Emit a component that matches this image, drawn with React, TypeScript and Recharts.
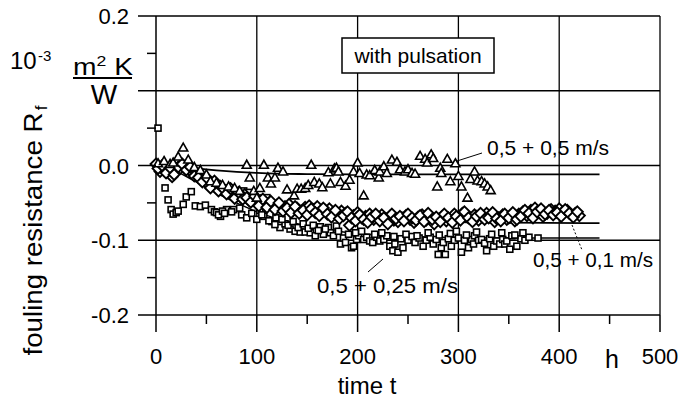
import React from 'react';
import { ComposedChart, Scatter, Line, XAxis, YAxis, ReferenceLine } from 'recharts';

// measured points [t in h, Rf in 1e-3 m2K/W]
const pulse05: [number, number][] = [
  [2, 0.003], [8, 0.006], [14, 0.002], [17, 0.004], [22, 0.012], [27, 0.024], [32, 0.008], [38, -0.002],
  [44, -0.006], [50, -0.012], [54, -0.021], [60, -0.023], [66, -0.026], [72, -0.028], [78, -0.03], [83, -0.034],
  [90, 0.001], [93, -0.016], [97, -0.034], [100, -0.043], [103, -0.03], [107, 0.001], [111, -0.016], [114, -0.024],
  [118, -0.016], [121, -0.003], [126, -0.008], [130, -0.032], [137, -0.04], [140, -0.031], [144, -0.031], [148, -0.03],
  [151, -0.026], [154, 0.001], [157, -0.022], [162, -0.024], [165, -0.029], [171, -0.009], [173, -0.024], [177, -0.004],
  [179, -0.003], [181, -0.008], [183, -0.022], [188, -0.027], [192, -0.019], [196, -0.008], [200, 0.004], [202, -0.01],
  [206, -0.04], [209, -0.012], [212, -0.013], [217, -0.006], [221, -0.016], [222, -0.008], [226, -0.001], [229, -0.01],
  [234, 0.008], [239, 0.005], [242, -0.005], [247, -0.008], [250, -0.005], [254, -0.01], [257, -0.011], [262, 0.013],
  [267, 0.009], [269, 0.004], [273, 0.015], [275, 0.01], [279, -0.028], [282, -0.003], [283, -0.01], [289, 0.009],
  [292, -0.021], [297, 0.003], [300, -0.014], [303, -0.028], [309, -0.043], [312, -0.018], [316, -0.008], [319, -0.02],
  [323, -0.021], [326, -0.024], [329, -0.028], [332, -0.033],
];

const pulse01: [number, number][] = [
  [0, 0.002], [4, -0.008], [8, -0.003], [12, -0.006], [16, -0.015], [20, -0.008], [24, -0.004], [28, -0.002],
  [32, -0.004], [36, -0.01], [40, -0.012], [44, -0.018], [48, -0.02], [52, -0.026], [56, -0.024], [60, -0.03],
  [64, -0.028], [68, -0.033], [72, -0.036], [76, -0.034], [80, -0.04], [84, -0.042], [88, -0.039], [92, -0.046],
  [96, -0.044], [100, -0.05], [104, -0.047], [108, -0.052], [112, -0.05], [116, -0.055], [120, -0.053], [124, -0.058],
  [128, -0.055], [132, -0.052], [136, -0.06], [140, -0.057], [144, -0.061], [148, -0.056], [152, -0.054], [156, -0.059],
  [160, -0.055], [164, -0.062], [168, -0.06], [172, -0.058], [176, -0.063], [180, -0.066], [184, -0.061], [188, -0.064],
  [192, -0.08], [196, -0.067], [200, -0.063], [204, -0.07], [208, -0.068], [212, -0.065], [216, -0.072], [220, -0.069],
  [224, -0.066], [228, -0.071], [232, -0.068], [236, -0.073], [240, -0.075], [244, -0.07], [248, -0.067], [252, -0.072],
  [256, -0.076], [260, -0.069], [264, -0.066], [268, -0.073], [272, -0.07], [276, -0.078], [280, -0.072], [284, -0.068],
  [288, -0.074], [292, -0.071], [296, -0.065], [300, -0.07], [304, -0.064], [308, -0.068], [312, -0.071], [316, -0.066],
  [320, -0.073], [324, -0.069], [328, -0.064], [332, -0.068], [336, -0.075], [340, -0.07], [344, -0.066], [348, -0.072],
  [352, -0.069], [356, -0.074], [360, -0.065], [364, -0.062], [368, -0.067], [372, -0.06], [376, -0.057], [380, -0.063],
  [384, -0.068], [388, -0.064], [392, -0.059], [396, -0.061], [400, -0.058], [404, -0.062], [408, -0.06], [412, -0.066],
  [416, -0.064], [420, -0.067],
  [2, -0.004], [6, 0.0], [10, -0.01], [14, -0.003], [18, -0.012], [22, -0.002], [26, 0.002], [30, -0.006],
  [34, -0.002], [38, -0.014], [42, -0.016], [46, -0.022], [50, -0.016], [54, -0.03], [58, -0.021], [62, -0.034],
  [66, -0.03], [70, -0.038], [74, -0.031], [78, -0.044], [82, -0.036], [86, -0.045], [90, -0.043], [94, -0.049],
  [98, -0.041], [102, -0.054], [106, -0.045], [110, -0.056], [114, -0.048], [118, -0.059], [122, -0.05], [126, -0.061],
  [130, -0.057], [134, -0.063], [138, -0.055], [142, -0.064], [146, -0.06], [150, -0.066], [154, -0.058], [158, -0.063],
  [162, -0.067], [166, -0.057], [170, -0.065], [174, -0.069], [178, -0.06], [182, -0.071], [186, -0.067], [190, -0.062],
  [194, -0.07], [198, -0.074], [202, -0.066], [206, -0.072], [210, -0.076], [214, -0.069], [218, -0.065], [222, -0.074],
  [226, -0.07], [230, -0.078], [234, -0.065], [238, -0.071], [242, -0.068], [246, -0.074], [250, -0.065], [254, -0.07],
  [258, -0.073], [262, -0.067], [266, -0.075], [270, -0.064], [274, -0.072], [278, -0.069], [282, -0.075], [286, -0.065],
  [290, -0.07], [294, -0.076], [298, -0.068], [302, -0.073], [306, -0.062], [310, -0.07], [314, -0.075], [318, -0.068],
  [322, -0.064], [326, -0.072], [330, -0.07], [334, -0.063], [338, -0.071], [342, -0.074], [346, -0.065], [350, -0.07],
  [354, -0.063], [358, -0.072], [362, -0.068], [366, -0.06], [370, -0.064], [374, -0.07], [378, -0.062], [382, -0.058],
  [386, -0.065], [390, -0.06], [394, -0.066], [398, -0.063], [402, -0.068], [406, -0.059], [410, -0.064], [414, -0.069],
  [418, -0.062],
];

const pulse025: [number, number][] = [
  [2, 0.05], [9, -0.03], [12, -0.046], [15, -0.059], [17, -0.065], [20, -0.063], [22, -0.061], [27, -0.052],
  [30, -0.042], [35, -0.035], [39, -0.054], [44, -0.055], [49, -0.053], [55, -0.059], [58, -0.062], [60, -0.063],
  [64, -0.068], [70, -0.059], [73, -0.03], [77, -0.059], [80, -0.034], [83, -0.057], [87, -0.034], [92, -0.036],
  [97, -0.045], [103, -0.06], [107, -0.068], [110, -0.043], [115, -0.075], [119, -0.07], [123, -0.083], [128, -0.078],
  [133, -0.085], [138, -0.088], [143, -0.089], [148, -0.089], [153, -0.09], [158, -0.094], [163, -0.082], [166, -0.092],
  [171, -0.083], [173, -0.09], [176, -0.094], [179, -0.081], [183, -0.105], [186, -0.097], [188, -0.103], [191, -0.092],
  [194, -0.11], [196, -0.108], [199, -0.099], [201, -0.094], [206, -0.099], [209, -0.096], [212, -0.101], [215, -0.103],
  [219, -0.096], [222, -0.101], [226, -0.099], [229, -0.094], [232, -0.108], [235, -0.114], [237, -0.105], [240, -0.116],
  [243, -0.098], [245, -0.11], [250, -0.1], [254, -0.095], [257, -0.103], [261, -0.097], [265, -0.108], [268, -0.1],
  [272, -0.096], [275, -0.105], [278, -0.099], [280, -0.119], [283, -0.11], [285, -0.103], [287, -0.119], [290, -0.098],
  [293, -0.108], [296, -0.1], [300, -0.097], [303, -0.116], [306, -0.1], [310, -0.11], [313, -0.099], [315, -0.105],
  [316, -0.094], [320, -0.1], [323, -0.099], [326, -0.104], [328, -0.114], [331, -0.098], [335, -0.108], [338, -0.101],
  [341, -0.105], [344, -0.099], [346, -0.105], [348, -0.101], [351, -0.112], [353, -0.094], [358, -0.108], [362, -0.098],
  [366, -0.1], [370, -0.096], [379, -0.097],
  [62, -0.066], [66, -0.061], [68, -0.064], [75, -0.062], [85, -0.066], [90, -0.07], [95, -0.064], [100, -0.072],
  [105, -0.066], [112, -0.074], [118, -0.079], [125, -0.072], [131, -0.08], [136, -0.075], [141, -0.083], [146, -0.078],
  [151, -0.084], [156, -0.08], [161, -0.087], [168, -0.085], [181, -0.088], [198, -0.09], [204, -0.088], [217, -0.092],
  [224, -0.09], [236, -0.095], [248, -0.092], [259, -0.094], [270, -0.09], [281, -0.093], [292, -0.091], [298, -0.088],
  [308, -0.093], [318, -0.089], [333, -0.092], [343, -0.09], [356, -0.093], [364, -0.09],
];

// fitted curves
const fit05: [number, number][] = [
  [0, 0], [20, -0.001], [40, -0.004], [60, -0.0065], [80, -0.0085], [100, -0.01], [120, -0.011], [150, -0.0115],
  [200, -0.012], [300, -0.012], [440, -0.012],
];
const fit01: [number, number][] = [
  [0, 0], [20, -0.004], [40, -0.014], [60, -0.026], [80, -0.037], [100, -0.046], [120, -0.053], [140, -0.059],
  [160, -0.063], [180, -0.067], [200, -0.07], [240, -0.073], [280, -0.075], [340, -0.0765], [440, -0.077],
];
const fit025: [number, number][] = [
  [0, 0], [20, -0.008], [40, -0.022], [60, -0.037], [80, -0.05], [100, -0.062], [120, -0.071], [140, -0.078],
  [160, -0.084], [180, -0.088], [200, -0.091], [240, -0.094], [280, -0.096], [340, -0.097], [440, -0.097],
];

const xTicks = [0, 50, 100, 150, 200, 250, 300, 350, 400, 450, 500];
const yTicks = [-0.2, -0.15, -0.1, -0.05, 0, 0.05, 0.1, 0.15, 0.2];
const yLabels: Record<string, string> = { '0.2': '0.2', '0': '0.0', '-0.1': '-0.1', '-0.2': '-0.2' };
const gridX = [100, 200, 300, 400, 500];
const gridY = [0.2, 0.1, 0, -0.1];

const FONT = '"Liberation Sans", Arial, sans-serif';
const toRows = (pts: [number, number][]) => pts.map(([t, v]) => ({ t, v }));
const isMajor = (v: number) => Math.abs(v * 10 - Math.round(v * 10)) < 1e-6;

function Triangle({ cx, cy }: any) {
  return <path d={`M${cx},${cy - 4.5}L${cx + 4.5},${cy + 3.5}L${cx - 4.5},${cy + 3.5}Z`} fill="#fff" stroke="#000" strokeWidth={1.6} />;
}
function Diamond({ cx, cy }: any) {
  return <path d={`M${cx},${cy - 5.5}L${cx + 5.5},${cy}L${cx},${cy + 5.5}L${cx - 5.5},${cy}Z`} fill="#fff" stroke="#000" strokeWidth={1.9} />;
}
function Square({ cx, cy }: any) {
  return <rect x={cx - 3} y={cy - 3} width={6} height={6} fill="#fff" stroke="#000" strokeWidth={1.6} />;
}

function YTick({ x, y, payload }: any) {
  const v = payload.value as number;
  const major = isMajor(v);
  const key = String(Math.round(v * 10) / 10);
  const label = major ? yLabels[key] : undefined;
  return (
    <g>
      <line x1={x - (major ? 18 : 9)} x2={x} y1={y} y2={y} stroke="#000" strokeWidth={1.5} />
      {label && (
        <text x={x - 27} y={y + 8} textAnchor="end" fontSize={22} fontFamily={FONT} fill="#000">{label}</text>
      )}
    </g>
  );
}

function XTick({ x, y, payload }: any) {
  const v = payload.value as number;
  const major = v % 100 === 0;
  return (
    <g>
      <line x1={x} x2={x} y1={y} y2={y + (major ? 17 : 9)} stroke="#000" strokeWidth={1.5} />
      {major && (
        <text x={x} y={y + 49} textAnchor="middle" fontSize={22} fontFamily={FONT} fill="#000">{v}</text>
      )}
    </g>
  );
}

export default function App() {
  return (
    <div style={{ position: 'absolute', left: 0, top: 0, width: 690, height: 402, background: '#fff', fontFamily: FONT }}>
      <ComposedChart width={690} height={402} margin={{ top: 16, right: 30, bottom: 47, left: 96 }}>
        <XAxis type="number" dataKey="t" domain={[0, 500]} ticks={xTicks} interval={0} height={40}
          tickSize={0} tickMargin={0} tick={(p: any) => <XTick {...p} />} axisLine={{ stroke: '#000', strokeWidth: 1.5 }} />
        <YAxis type="number" dataKey="v" domain={[-0.2, 0.2]} ticks={yTicks} interval={0} width={60}
          tickSize={0} tickMargin={0} tick={(p: any) => <YTick {...p} />} axisLine={{ stroke: '#000', strokeWidth: 1.5 }} />
        {gridX.map((g) => <ReferenceLine key={'x' + g} x={g} stroke="#000" strokeWidth={1.3} />)}
        {gridY.map((g) => <ReferenceLine key={'y' + g} y={g} stroke="#000" strokeWidth={1.5} />)}
        <Scatter name="0,5 + 0,25 m/s" data={toRows(pulse025)} dataKey="v" shape={(p: any) => <Square {...p} />} isAnimationActive={false} />
        <Scatter name="0,5 + 0,1 m/s" data={toRows(pulse01)} dataKey="v" shape={(p: any) => <Diamond {...p} />} isAnimationActive={false} />
        <Scatter name="0,5 + 0,5 m/s" data={toRows(pulse05)} dataKey="v" shape={(p: any) => <Triangle {...p} />} isAnimationActive={false} />
        <Line data={toRows(fit025)} dataKey="v" type="monotone" stroke="#000" strokeWidth={1.5} dot={false} isAnimationActive={false} />
        <Line data={toRows(fit01)} dataKey="v" type="monotone" stroke="#000" strokeWidth={1.8} dot={false} isAnimationActive={false} />
        <Line data={toRows(fit05)} dataKey="v" type="monotone" stroke="#000" strokeWidth={1.8} dot={false} isAnimationActive={false} />
      </ComposedChart>
      <svg width={690} height={402} style={{ position: 'absolute', left: 0, top: 0, pointerEvents: 'none' }} fontFamily={FONT}>
        {/* unit */}
        <text x={10} y={69} fontSize={24}>10</text>
        <text x={38} y={61} fontSize={15}>-3</text>
        <text x={73} y={75} fontSize={24} textLength={60} lengthAdjust="spacingAndGlyphs">m<tspan fontSize={15} dy={-9}>2</tspan><tspan dy={9}> K</tspan></text>
        <line x1={73} x2={132} y1={78} y2={78} stroke="#000" strokeWidth={2} />
        <text x={104} y={104} fontSize={28} textAnchor="middle">W</text>
        {/* axis titles */}
        <text transform="translate(42,234) rotate(-90)" fontSize={25} textAnchor="middle" textLength={243} lengthAdjust="spacingAndGlyphs">fouling resistance R</text>
        <text transform="translate(47,108) rotate(-90)" fontSize={17} textAnchor="middle">f</text>
        <text x={367} y={394} fontSize={24} textAnchor="middle">time t</text>
        <text x={612} y={368} fontSize={25} textAnchor="middle">h</text>
        {/* box */}
        <rect x={342} y={38} width={152} height={35} fill="#fff" stroke="#000" strokeWidth={1.5} />
        <text x={418} y={63} fontSize={21} textAnchor="middle">with pulsation</text>
        {/* series labels */}
        <line x1={457} y1={161} x2={482} y2={153} stroke="#000" strokeWidth={1} />
        <text x={487} y={155} fontSize={21} textLength={122} lengthAdjust="spacingAndGlyphs">0,5 + 0,5 m/s</text>
        <line x1={572} y1={225} x2={582} y2={250} stroke="#000" strokeWidth={1} strokeDasharray="2 2" />
        <text x={533} y={267} fontSize={21} textLength={120} lengthAdjust="spacingAndGlyphs">0,5 + 0,1 m/s</text>
        <line x1={368} y1={272} x2={383} y2={259} stroke="#000" strokeWidth={1} />
        <text x={317} y={293} fontSize={21} textLength={141} lengthAdjust="spacingAndGlyphs">0,5 + 0,25 m/s</text>
      </svg>
    </div>
  );
}
